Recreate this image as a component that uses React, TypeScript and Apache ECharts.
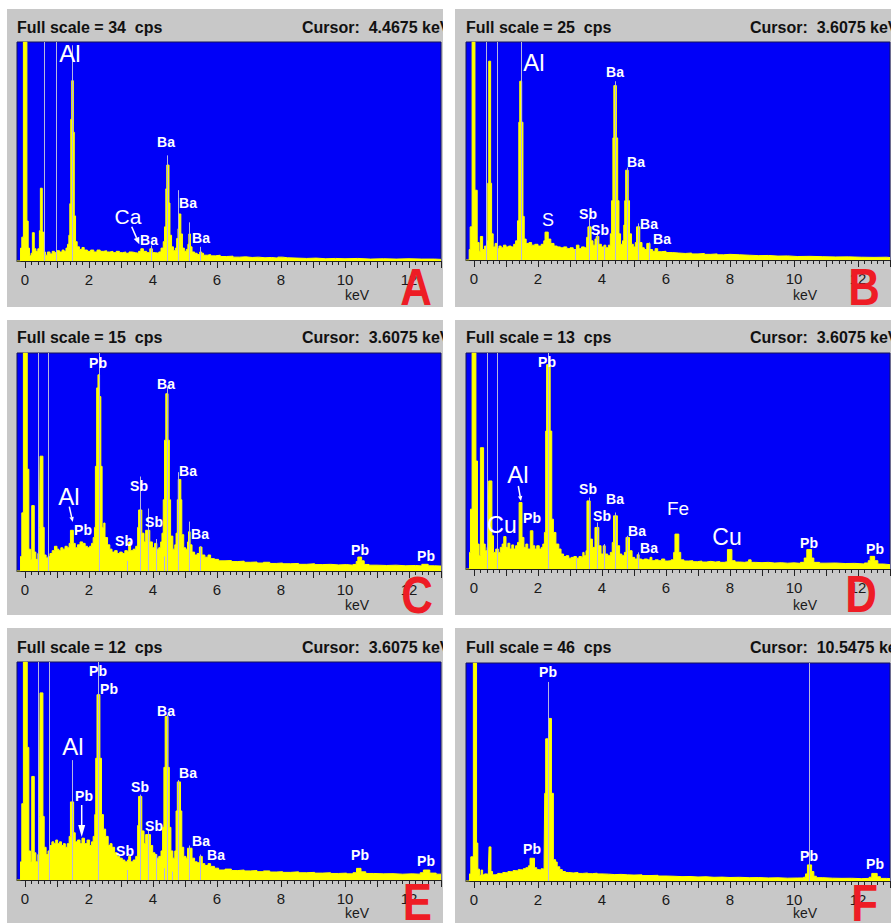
import React, { useEffect, useRef } from "react";
import * as echarts from "echarts";

// ---------------- data ----------------
const PANEL_NAMES = ["A", "B", "C", "D", "E", "F"];
const FULL_SCALE_CPS = [34, 25, 15, 13, 12, 46];
const CURSOR_KEV = ["4.4675", "3.6075", "3.6075", "3.6075", "3.6075", "10.5475"];
const MAJOR_TICKS_KEV = [0, 1, 2, 3, 4, 5, 6, 7, 8, 9, 10, 11, 12, 13];
const TICK_LABELS_KEV = [0, 2, 4, 6, 8, 10, 12];

// [energy keV, counts per second] — histogram levels (each level holds until the next energy)
const SPECTRUM_A: [number, number][] = [
  [-0.25, 0], [-0.14, 2.0], [-0.1, 3.7], [-0.05, 34], [0.06, 6.2], [0.1, 2.0], [0.14, 0.8], [0.19, 1.2], [0.23, 4.4], [0.29, 1.9],
  [0.34, 1.5], [0.4, 1.9], [0.45, 4.7], [0.48, 11.3], [0.54, 4.5], [0.58, 1.4], [0.64, 0.9], [0.7, 1.4], [0.78, 1.1], [0.85, 1.5],
  [0.92, 1.3], [1.0, 1.6], [1.08, 1.4], [1.16, 1.7], [1.22, 1.5], [1.28, 2.0], [1.33, 2.6], [1.37, 4.0], [1.4, 8.9], [1.43, 22],
  [1.46, 28], [1.51, 20], [1.54, 7.0], [1.58, 3.0], [1.63, 2.2], [1.7, 1.8], [1.78, 2.1], [1.85, 1.7], [1.95, 1.5], [2.05, 1.7],
  [2.15, 1.4], [2.25, 1.7], [2.35, 1.5], [2.45, 1.6], [2.55, 1.4], [2.65, 1.5], [2.75, 1.3], [2.85, 1.5], [2.95, 1.3], [3.05, 1.4],
  [3.15, 1.2], [3.25, 1.4], [3.35, 1.3], [3.45, 1.2], [3.55, 1.5], [3.62, 1.9], [3.7, 1.5], [3.8, 1.3], [3.9, 1.9], [3.98, 1.3],
  [4.08, 1.2], [4.18, 1.4], [4.25, 2.0], [4.32, 3.0], [4.36, 5.3], [4.4, 11.2], [4.43, 14.9], [4.5, 9.0], [4.53, 4.0], [4.58, 2.2],
  [4.64, 1.6], [4.7, 2.0], [4.74, 3.5], [4.78, 5.0], [4.81, 7.3], [4.87, 4.2], [4.92, 2.0], [4.98, 1.5], [5.04, 1.8], [5.09, 2.6],
  [5.12, 4.2], [5.17, 2.2], [5.22, 1.4], [5.3, 1.2], [5.38, 1.0], [5.46, 1.4], [5.52, 1.2], [5.58, 0.9], [5.7, 1.0], [5.8, 0.8],
  [5.95, 0.9], [6.1, 0.7], [6.3, 0.75], [6.5, 0.6], [6.7, 0.65], [6.9, 0.55], [7.1, 0.6], [7.3, 0.5], [7.5, 0.55], [7.7, 0.45],
  [7.9, 0.6], [8.05, 0.5], [8.2, 0.45], [8.5, 0.4], [8.8, 0.45], [9.1, 0.35], [9.4, 0.4], [9.7, 0.35], [10.0, 0.4], [10.4, 0.3],
  [10.8, 0.35], [11.2, 0.3], [11.6, 0.35], [12.0, 0.3], [12.4, 0.3], [12.8, 0.25], [13.0, 0.25],
];
const SPECTRUM_B: [number, number][] = [
  [-0.25, 0], [-0.15, 1.2], [-0.12, 3.8], [-0.06, 25], [0.03, 8.0], [0.1, 2.0], [0.16, 1.0], [0.2, 2.7], [0.27, 1.2], [0.33, 1.6],
  [0.4, 2.2], [0.43, 8.8], [0.46, 22.8], [0.52, 8.8], [0.55, 3.0], [0.6, 1.5], [0.66, 1.9], [0.72, 1.3], [0.78, 1.6], [0.85, 1.4],
  [0.92, 1.7], [1.0, 1.5], [1.08, 1.6], [1.16, 1.5], [1.24, 1.8], [1.3, 2.2], [1.36, 4.5], [1.4, 15.8], [1.43, 20.5], [1.49, 15.8],
  [1.53, 5.0], [1.57, 2.4], [1.63, 1.9], [1.72, 2.0], [1.8, 1.7], [1.9, 1.8], [2.0, 1.6], [2.1, 1.8], [2.18, 2.2], [2.22, 3.2],
  [2.32, 2.4], [2.4, 1.9], [2.5, 1.6], [2.6, 1.5], [2.7, 1.4], [2.8, 1.5], [2.9, 1.3], [3.0, 1.4], [3.1, 1.2], [3.2, 1.7],
  [3.28, 1.3], [3.36, 1.5], [3.45, 1.4], [3.52, 2.6], [3.56, 3.8], [3.66, 2.2], [3.72, 1.7], [3.78, 2.4], [3.82, 2.7], [3.9, 1.8],
  [3.98, 1.5], [4.06, 1.7], [4.12, 1.4], [4.2, 1.7], [4.26, 3.0], [4.3, 6.8], [4.34, 14], [4.37, 20], [4.45, 14], [4.49, 6.8],
  [4.53, 3.0], [4.58, 1.8], [4.64, 2.2], [4.68, 4.0], [4.71, 6.8], [4.74, 10.3], [4.82, 6.8], [4.86, 3.0], [4.92, 1.8], [4.98, 1.5],
  [5.04, 2.0], [5.08, 3.8], [5.18, 2.0], [5.25, 1.4], [5.32, 1.2], [5.4, 1.9], [5.5, 1.2], [5.58, 1.0], [5.66, 1.3], [5.74, 0.95],
  [5.85, 1.0], [6.0, 0.85], [6.2, 0.8], [6.4, 0.75], [6.6, 0.8], [6.8, 0.7], [7.0, 0.75], [7.2, 0.65], [7.4, 0.7], [7.6, 0.6],
  [7.8, 0.65], [8.0, 0.6], [8.3, 0.55], [8.6, 0.5], [8.9, 0.52], [9.2, 0.45], [9.5, 0.47], [9.8, 0.4], [10.1, 0.42], [10.5, 0.38],
  [10.9, 0.35], [11.3, 0.36], [11.7, 0.32], [12.1, 0.3], [12.5, 0.32], [12.9, 0.28], [13.0, 0.28],
];
const SPECTRUM_C: [number, number][] = [
  [-0.25, 0], [-0.14, 1.0], [-0.1, 4.0], [-0.05, 15], [0.07, 7.0], [0.12, 1.5], [0.17, 0.8], [0.21, 4.5], [0.29, 1.3], [0.34, 0.8],
  [0.4, 1.2], [0.45, 3.0], [0.47, 7.9], [0.56, 3.0], [0.6, 1.1], [0.66, 0.9], [0.72, 1.0], [0.78, 1.2], [0.85, 1.4], [0.92, 1.7],
  [1.0, 1.5], [1.06, 1.4], [1.12, 1.6], [1.18, 1.5], [1.25, 1.7], [1.32, 1.6], [1.38, 1.9], [1.42, 2.8], [1.51, 1.9], [1.57, 1.6],
  [1.64, 1.8], [1.72, 2.0], [1.8, 1.9], [1.88, 1.7], [1.95, 1.6], [2.02, 1.7], [2.08, 1.9], [2.13, 2.3], [2.17, 3.0], [2.2, 7.2],
  [2.24, 12.6], [2.28, 13.5], [2.33, 12.0], [2.37, 7.2], [2.41, 3.0], [2.46, 3.3], [2.5, 2.3], [2.58, 1.8], [2.65, 1.5], [2.72, 1.3],
  [2.8, 1.4], [2.88, 1.2], [2.96, 1.3], [3.04, 1.2], [3.12, 1.4], [3.2, 1.3], [3.24, 2.0], [3.3, 1.4], [3.38, 1.5], [3.46, 1.7],
  [3.52, 3.0], [3.55, 4.2], [3.65, 2.6], [3.72, 2.0], [3.77, 2.8], [3.9, 2.0], [3.98, 1.6], [4.05, 1.9], [4.12, 1.5], [4.18, 1.6],
  [4.24, 2.0], [4.28, 2.6], [4.32, 4.9], [4.36, 9.0], [4.4, 12.2], [4.47, 9.0], [4.51, 4.9], [4.55, 2.4], [4.62, 1.5], [4.68, 1.8],
  [4.72, 2.6], [4.76, 4.9], [4.79, 6.3], [4.87, 4.9], [4.9, 2.5], [4.96, 1.6], [5.02, 1.5], [5.08, 2.0], [5.11, 2.7], [5.16, 1.8],
  [5.22, 1.3], [5.3, 1.1], [5.38, 1.2], [5.45, 1.65], [5.53, 1.1], [5.62, 0.95], [5.72, 1.1], [5.8, 0.85], [5.92, 0.8], [6.05, 0.7],
  [6.25, 0.72], [6.45, 0.65], [6.65, 0.68], [6.85, 0.6], [7.05, 0.62], [7.25, 0.55], [7.45, 0.6], [7.65, 0.52], [7.85, 0.55], [8.05, 0.5],
  [8.3, 0.52], [8.55, 0.46], [8.8, 0.5], [9.05, 0.44], [9.3, 0.46], [9.55, 0.42], [9.8, 0.44], [10.05, 0.4], [10.25, 0.45], [10.35, 0.65],
  [10.4, 0.96], [10.52, 0.7], [10.6, 0.45], [10.75, 0.4], [11.0, 0.38], [11.3, 0.4], [11.6, 0.36], [11.9, 0.38], [12.2, 0.35], [12.4, 0.46],
  [12.6, 0.36], [12.8, 0.34], [13.0, 0.34],
];
const SPECTRUM_D: [number, number][] = [
  [-0.25, 0], [-0.14, 1.0], [-0.11, 3.6], [-0.06, 13], [0.06, 6.5], [0.11, 1.5], [0.16, 0.8], [0.2, 7.3], [0.3, 1.5], [0.35, 1.1],
  [0.41, 1.3], [0.44, 2.5], [0.46, 5.3], [0.56, 2.0], [0.61, 1.0], [0.68, 1.2], [0.76, 1.0], [0.82, 1.3], [0.88, 1.5], [0.93, 1.95],
  [1.0, 1.3], [1.06, 1.55], [1.12, 1.2], [1.18, 1.45], [1.24, 1.2], [1.3, 1.4], [1.36, 1.6], [1.41, 4.0], [1.5, 1.9], [1.56, 1.3],
  [1.62, 1.5], [1.68, 1.2], [1.76, 2.3], [1.84, 1.4], [1.9, 1.2], [1.96, 1.4], [2.04, 1.2], [2.1, 1.3], [2.15, 1.5], [2.2, 2.2],
  [2.24, 8.3], [2.27, 12.3], [2.38, 8.3], [2.43, 3.0], [2.48, 2.2], [2.56, 1.5], [2.65, 1.2], [2.72, 0.9], [2.8, 0.75], [2.88, 0.8],
  [2.96, 0.65], [3.04, 0.7], [3.12, 0.75], [3.2, 0.65], [3.28, 0.75], [3.36, 0.7], [3.4, 1.0], [3.44, 0.8], [3.5, 1.1], [3.53, 4.1],
  [3.63, 1.8], [3.7, 1.3], [3.78, 2.5], [3.9, 1.4], [3.97, 0.9], [4.04, 1.4], [4.1, 0.9], [4.18, 0.8], [4.26, 1.0], [4.32, 1.6],
  [4.36, 3.2], [4.48, 1.4], [4.55, 0.9], [4.62, 0.8], [4.7, 1.0], [4.75, 1.9], [4.86, 1.1], [4.94, 0.7], [5.02, 0.6], [5.1, 0.86],
  [5.16, 0.6], [5.24, 0.55], [5.32, 0.6], [5.42, 0.55], [5.5, 0.7], [5.56, 0.5], [5.66, 0.55], [5.76, 0.5], [5.86, 0.6], [5.96, 0.48],
  [6.06, 0.5], [6.16, 0.55], [6.24, 1.0], [6.28, 2.1], [6.4, 1.0], [6.46, 0.55], [6.56, 0.48], [6.7, 0.5], [6.84, 0.44], [6.98, 0.48],
  [7.12, 0.42], [7.26, 0.46], [7.4, 0.42], [7.54, 0.45], [7.68, 0.4], [7.82, 0.44], [7.92, 1.17], [8.06, 0.5], [8.16, 0.42], [8.3, 0.4],
  [8.45, 0.44], [8.58, 0.55], [8.66, 0.4], [8.8, 0.38], [9.0, 0.4], [9.2, 0.36], [9.4, 0.38], [9.6, 0.35], [9.8, 0.37], [10.0, 0.34],
  [10.2, 0.4], [10.32, 0.66], [10.4, 1.17], [10.55, 0.66], [10.62, 0.4], [10.8, 0.35], [11.0, 0.36], [11.3, 0.33], [11.6, 0.34], [11.9, 0.3],
  [12.2, 0.36], [12.32, 0.5], [12.38, 0.76], [12.52, 0.5], [12.62, 0.3], [12.8, 0.26], [13.0, 0.26],
];
const SPECTRUM_E: [number, number][] = [
  [-0.25, 0], [-0.14, 1.0], [-0.1, 4.2], [-0.05, 12], [0.07, 7.3], [0.12, 1.6], [0.17, 1.0], [0.21, 5.7], [0.29, 1.5], [0.34, 1.0],
  [0.4, 1.4], [0.45, 3.5], [0.47, 10.3], [0.56, 3.5], [0.6, 1.8], [0.66, 1.4], [0.72, 1.6], [0.78, 1.9], [0.84, 2.1], [0.9, 2.0],
  [0.96, 2.2], [1.02, 2.0], [1.08, 2.1], [1.14, 1.9], [1.2, 2.0], [1.26, 1.8], [1.32, 2.0], [1.38, 2.4], [1.42, 4.3], [1.52, 2.6],
  [1.57, 2.1], [1.64, 2.2], [1.72, 2.0], [1.78, 2.3], [1.86, 2.0], [1.94, 2.2], [2.02, 1.9], [2.08, 2.1], [2.13, 2.4], [2.18, 3.6],
  [2.21, 6.7], [2.25, 10.2], [2.34, 6.7], [2.39, 3.6], [2.45, 2.8], [2.52, 2.4], [2.6, 1.9], [2.66, 2.0], [2.72, 1.8], [2.8, 1.5],
  [2.88, 1.3], [2.96, 1.2], [3.04, 1.1], [3.12, 1.0], [3.2, 1.1], [3.24, 1.3], [3.3, 1.0], [3.38, 1.1], [3.46, 1.3], [3.52, 3.0],
  [3.55, 4.6], [3.65, 2.7], [3.72, 2.0], [3.77, 2.5], [3.92, 1.9], [3.99, 1.5], [4.06, 1.4], [4.12, 1.2], [4.18, 1.3], [4.25, 1.6],
  [4.3, 2.9], [4.34, 6.2], [4.38, 9.0], [4.47, 6.2], [4.51, 2.9], [4.56, 1.6], [4.62, 1.2], [4.68, 1.6], [4.72, 3.8], [4.76, 5.4],
  [4.86, 3.8], [4.9, 1.8], [4.96, 1.3], [5.03, 1.2], [5.08, 1.75], [5.22, 1.2], [5.3, 1.0], [5.38, 0.95], [5.46, 1.3], [5.54, 0.9],
  [5.62, 0.8], [5.72, 0.9], [5.8, 0.75], [5.92, 0.65], [6.05, 0.55], [6.25, 0.6], [6.45, 0.52], [6.65, 0.55], [6.85, 0.5], [7.05, 0.52],
  [7.25, 0.46], [7.45, 0.5], [7.65, 0.44], [7.85, 0.46], [8.05, 0.42], [8.3, 0.45], [8.55, 0.4], [8.8, 0.42], [9.05, 0.38], [9.3, 0.4],
  [9.55, 0.36], [9.8, 0.38], [10.05, 0.34], [10.25, 0.4], [10.36, 0.64], [10.5, 0.45], [10.65, 0.36], [10.9, 0.34], [11.2, 0.35], [11.5, 0.32],
  [11.8, 0.34], [12.1, 0.32], [12.35, 0.4], [12.45, 0.55], [12.65, 0.38], [12.85, 0.32], [13.0, 0.32],
];
const SPECTRUM_F: [number, number][] = [
  [-0.25, 0], [-0.14, 1.5], [-0.1, 5.1], [-0.02, 46], [0.08, 8.0], [0.12, 2.5], [0.17, 1.2], [0.22, 2.3], [0.27, 1.3], [0.33, 1.5],
  [0.4, 1.4], [0.45, 2.5], [0.47, 7.2], [0.53, 2.0], [0.58, 1.3], [0.66, 1.4], [0.74, 1.6], [0.82, 1.5], [0.9, 1.8], [0.98, 1.7],
  [1.06, 2.0], [1.14, 1.9], [1.22, 2.2], [1.3, 2.1], [1.38, 2.4], [1.46, 2.3], [1.54, 2.6], [1.62, 2.8], [1.7, 3.2], [1.75, 4.8],
  [1.89, 2.8], [1.96, 2.4], [2.04, 2.3], [2.1, 2.6], [2.14, 2.5], [2.19, 4.0], [2.21, 18.5], [2.24, 30], [2.33, 34.3], [2.42, 18.5],
  [2.48, 4.5], [2.55, 4.0], [2.6, 3.0], [2.68, 2.4], [2.76, 2.0], [2.86, 1.8], [2.96, 1.7], [3.1, 1.8], [3.25, 1.6], [3.4, 1.7],
  [3.55, 1.55], [3.7, 1.65], [3.85, 1.5], [4.0, 1.45], [4.2, 1.35], [4.4, 1.4], [4.6, 1.3], [4.8, 1.25], [5.0, 1.3], [5.25, 1.15],
  [5.5, 1.2], [5.75, 1.05], [6.0, 1.0], [6.25, 0.92], [6.5, 0.95], [6.75, 0.85], [7.0, 0.9], [7.25, 0.78], [7.5, 0.82], [7.75, 0.74],
  [8.0, 0.78], [8.3, 0.7], [8.6, 0.72], [8.9, 0.65], [9.2, 0.68], [9.5, 0.6], [9.8, 0.63], [10.1, 0.65], [10.3, 0.8], [10.36, 1.5],
  [10.42, 3.4], [10.55, 2.0], [10.62, 1.0], [10.7, 0.7], [10.9, 0.6], [11.2, 0.56], [11.5, 0.58], [11.8, 0.5], [12.1, 0.55], [12.35, 0.8],
  [12.43, 1.6], [12.6, 0.9], [12.7, 0.55], [12.9, 0.5], [13.0, 0.5],
];

// element-line markers [energy keV, top cps]
const MARKERS_A: [number, number][] = [[0.6, 34], [0.98, 34], [1.49, 33.5], [3.96, 2.4], [4.45, 16.4], [4.79, 11], [5.12, 6], [5.49, 2.2]];
const MARKERS_B: [number, number][] = [[0.38, 25], [0.72, 25], [1.48, 25], [3.17, 1.2], [3.59, 4.8], [3.84, 3.2], [4.07, 1.5], [4.4, 20.5], [4.78, 10.6], [5.12, 4.2], [5.47, 2.0]];
const MARKERS_C: [number, number][] = [[0.4, 15], [0.73, 15], [2.32, 15], [3.19, 0.7], [3.6, 6.5], [3.84, 4.3], [4.1, 2.2], [4.35, 1.0], [4.44, 12.7], [4.8, 6.8], [5.13, 3.4], [5.48, 1.7]];
const MARKERS_D: [number, number][] = [[0.41, 13], [0.74, 13], [2.32, 13], [3.19, 0.6], [3.6, 4.3], [3.84, 2.8], [4.08, 1.5], [4.42, 3.4], [4.8, 2.0], [5.12, 1.0]];
const MARKERS_E: [number, number][] = [[0.41, 12], [0.75, 12], [1.48, 6.6], [2.3, 12], [3.19, 0.55], [3.6, 4.7], [3.84, 2.7], [4.1, 1.4], [4.35, 0.64], [4.44, 9.1], [4.6, 0.46], [4.8, 5.5], [5.14, 1.9], [5.49, 1.4]];
const MARKERS_F: [number, number][] = [[2.33, 42], [10.48, 46]];

const SPECTRA = [SPECTRUM_A, SPECTRUM_B, SPECTRUM_C, SPECTRUM_D, SPECTRUM_E, SPECTRUM_F];
const MARKERS = [MARKERS_A, MARKERS_B, MARKERS_C, MARKERS_D, MARKERS_E, MARKERS_F];

// ---------------- layout ----------------
const FONT = '"Liberation Sans", Arial, Helvetica, sans-serif';
const BLUE = "#0000f8";
const YELLOW = "#ffff00";
const GRAY = "#c8c8c8";
const MARKER_COLOR = "#b6b6de";
const RED = "#ee1c25";

const PANELS = [
  { left: 17, top: 42, h: 219, headY: 27, curX: 302, keV: [357, 295], letter: [432, 287] },
  { left: 466, top: 42, h: 218, headY: 27, curX: 750, keV: [805, 295], letter: [880, 287] },
  { left: 17, top: 353, h: 218, headY: 337, curX: 302, keV: [357, 605], letter: [433, 595] },
  { left: 466, top: 353, h: 216, headY: 337, curX: 750, keV: [805, 605], letter: [877, 594] },
  { left: 17, top: 662, h: 218, headY: 647, curX: 302, keV: [357, 913], letter: [432, 902] },
  { left: 466, top: 663, h: 218, headY: 647, curX: 750, keV: [805, 913], letter: [878, 903] },
];

// annotation layout: [text, x, y, fontSize, weight]
type Lab = [string, number, number, number, string];
const LABEL_LAYOUT: Lab[][] = [
  [["Al", 70, 53, 24, "normal"], ["Ba", 166, 142, 14, "bold"], ["Ba", 188, 203, 14, "bold"], ["Ba", 201, 238, 14, "bold"],
   ["Ca", 128, 216, 21, "normal"], ["Ba", 149, 240, 14, "bold"]],
  [["Al", 534, 62, 24, "normal"], ["Ba", 615, 72, 14, "bold"], ["Ba", 636, 162, 14, "bold"], ["S", 548, 220, 18, "normal"],
   ["Sb", 588, 214, 14, "bold"], ["Sb", 600, 230, 14, "bold"], ["Ba", 649, 224, 14, "bold"], ["Ba", 662, 239, 14, "bold"]],
  [["Pb", 98, 363, 14, "bold"], ["Ba", 166, 384, 14, "bold"], ["Ba", 188, 471, 14, "bold"], ["Al", 69, 496, 24, "normal"],
   ["Pb", 83, 530, 14, "bold"], ["Sb", 139, 486, 14, "bold"], ["Sb", 154, 522, 14, "bold"], ["Sb", 124, 541, 14, "bold"],
   ["Ba", 200, 534, 14, "bold"], ["Pb", 360, 550, 14, "bold"], ["Pb", 426, 556, 14, "bold"]],
  [["Pb", 547, 362, 14, "bold"], ["Al", 518, 474, 24, "normal"], ["Cu", 502, 525, 23, "normal"], ["Pb", 532, 518, 14, "bold"],
   ["Sb", 588, 489, 14, "bold"], ["Sb", 602, 516, 14, "bold"], ["Ba", 615, 499, 14, "bold"], ["Ba", 637, 531, 14, "bold"],
   ["Ba", 649, 548, 14, "bold"], ["Fe", 678, 508, 19, "normal"], ["Cu", 727, 537, 23, "normal"], ["Pb", 809, 543, 14, "bold"],
   ["Pb", 875, 549, 14, "bold"]],
  [["Pb", 98, 671, 14, "bold"], ["Pb", 109, 689, 14, "bold"], ["Ba", 166, 711, 14, "bold"], ["Al", 73, 746, 24, "normal"],
   ["Ba", 188, 773, 14, "bold"], ["Sb", 140, 787, 14, "bold"], ["Pb", 84, 796, 14, "bold"], ["Sb", 154, 826, 14, "bold"],
   ["Sb", 125, 851, 14, "bold"], ["Ba", 201, 841, 14, "bold"], ["Ba", 216, 855, 14, "bold"], ["Pb", 360, 855, 14, "bold"],
   ["Pb", 426, 861, 14, "bold"]],
  [["Pb", 548, 672, 14, "bold"], ["Pb", 532, 849, 14, "bold"], ["Pb", 809, 856, 14, "bold"], ["Pb", 875, 864, 14, "bold"]],
];
// arrows [x1, y1, x2, y2, headLen, headHalfWidth]
const ARROW_LAYOUT: number[][] = [
  [131.7, 226.7, 139.3, 244.3, 7, 3],
  [69.3, 506.7, 72.7, 522, 5, 2.2],
  [518.3, 486, 521, 501, 5, 2.2],
  [81.7, 805, 81.7, 837, 12, 3.5],
];

const MINOR_TICKS_KEV = MAJOR_TICKS_KEV.slice(0, -1).flatMap((t) => [0.2, 0.4, 0.6, 0.8].map((f) => Math.round((t + f) * 10) / 10));

function buildOption() {
  const grid: any[] = [];
  const xAxis: any[] = [];
  const yAxis: any[] = [];
  const series: any[] = [];
  const elements: any[] = [];

  PANELS.forEach((p, i) => {
    grid.push({ left: p.left, top: p.top, width: 424, height: p.h, show: true, backgroundColor: BLUE, borderColor: "#15155a", borderWidth: 1 });
    xAxis.push({
      type: "value", gridIndex: i, min: -0.25, max: 13, position: "bottom",
      axisLine: { show: true, onZero: false, lineStyle: { color: "#222", width: 1 } },
      axisTick: { show: true, customValues: MAJOR_TICKS_KEV, length: 7, lineStyle: { color: "#222", width: 1 } },
      axisLabel: { show: true, customValues: TICK_LABELS_KEV, fontSize: 15, color: "#1a1a1a", fontFamily: FONT, margin: 11 },
      splitLine: { show: false },
    });
    xAxis.push({
      type: "value", gridIndex: i, min: -0.25, max: 13, position: "bottom",
      axisLine: { show: false, onZero: false },
      axisTick: { show: true, customValues: MINOR_TICKS_KEV, length: 4, lineStyle: { color: "#222", width: 1 } },
      axisLabel: { show: false }, splitLine: { show: false },
    });
    yAxis.push({ type: "value", gridIndex: i, min: 0, max: FULL_SCALE_CPS[i], show: false, splitLine: { show: false } });
    series.push({
      type: "line", name: "Spectrum " + PANEL_NAMES[i], xAxisIndex: 2 * i, yAxisIndex: i,
      data: SPECTRA[i], step: "end", symbol: "none", showSymbol: false, clip: true, silent: true,
      lineStyle: { color: YELLOW, width: 1 }, areaStyle: { color: YELLOW, opacity: 1 },
      emphasis: { disabled: true },
      markLine: {
        silent: true, symbol: ["none", "none"], label: { show: false },
        lineStyle: { color: MARKER_COLOR, width: 1, type: "solid", opacity: 1 },
        emphasis: { disabled: true },
        data: MARKERS[i].map(([e, h]) => [{ coord: [e, 0] }, { coord: [e, h] }]),
      },
    });

    // header texts
    elements.push({ type: "text", x: p.left, y: p.headY, z: 100, style: { text: `Full scale = ${FULL_SCALE_CPS[i]}  cps`, font: `bold 16px ${FONT}`, fill: "#111", textAlign: "left", textVerticalAlign: "middle" } });
    elements.push({ type: "text", x: p.curX, y: p.headY, z: 100, style: { text: `Cursor:  ${CURSOR_KEV[i]} keV`, font: `bold 16px ${FONT}`, fill: "#111", textAlign: "left", textVerticalAlign: "middle" } });
    elements.push({ type: "text", x: p.keV[0], y: p.keV[1], z: 100, style: { text: "keV", font: `14px ${FONT}`, fill: "#1a1a1a", textAlign: "center", textVerticalAlign: "middle" } });

    LABEL_LAYOUT[i].forEach(([t, x, y, s, w]) => {
      elements.push({ type: "text", x, y, z: 100, style: { text: t, font: `${w} ${s}px ${FONT}`, fill: "#ffffff", textAlign: "center", textVerticalAlign: "middle" } });
    });

    elements.push({ type: "text", x: p.letter[0], y: p.letter[1], z: 120, scaleX: 0.86, style: { text: PANEL_NAMES[i], font: `bold 51px ${FONT}`, fill: RED, textAlign: "right", textVerticalAlign: "middle" } });
  });

  ARROW_LAYOUT.forEach(([x1, y1, x2, y2, hl, hw]) => {
    const dx = x2 - x1, dy = y2 - y1;
    const len = Math.sqrt(dx * dx + dy * dy);
    const ux = dx / len, uy = dy / len;
    const bx = x2 - ux * hl, by = y2 - uy * hl;
    elements.push({ type: "line", z: 100, shape: { x1, y1, x2: bx, y2: by }, style: { stroke: "#fff", lineWidth: 1.5 } });
    elements.push({ type: "polygon", z: 100, shape: { points: [[x2, y2], [bx - uy * hw, by + ux * hw], [bx + uy * hw, by - ux * hw]] }, style: { fill: "#fff" } });
  });

  // white gaps between the instrument screenshots
  const gaps = [
    [0, 0, 891, 9], [0, 0, 7, 923], [443, 0, 12, 923], [0, 307, 891, 13], [0, 615, 891, 13],
  ];
  gaps.forEach(([x, y, w, h]) => elements.push({ type: "rect", z: 110, shape: { x, y, width: w, height: h }, style: { fill: "#ffffff" } }));

  return {
    animation: false,
    backgroundColor: GRAY,
    grid, xAxis, yAxis, series,
    graphic: { elements },
  };
}

export default function App() {
  const ref = useRef<HTMLDivElement>(null);
  useEffect(() => {
    if (!ref.current) return;
    const chart = echarts.init(ref.current, undefined, { renderer: "svg" });
    chart.setOption(buildOption() as any);
    return () => chart.dispose();
  }, []);
  return <div ref={ref} style={{ position: "absolute", left: 0, top: 0, width: 891, height: 923 }} />;
}
